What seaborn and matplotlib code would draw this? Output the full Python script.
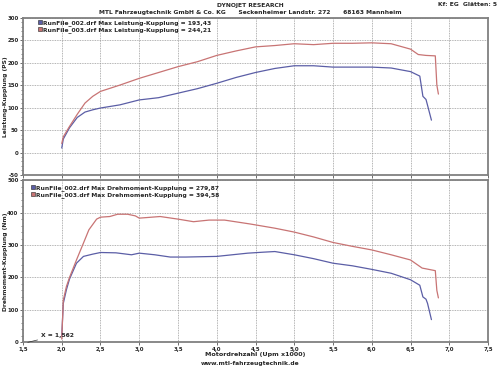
import numpy as np
import pandas as pd
import matplotlib
matplotlib.use("Agg")
import matplotlib.pyplot as plt
import seaborn as sns
from matplotlib.lines import Line2D
from matplotlib.ticker import MultipleLocator, FuncFormatter

# ---------------- data ----------------
rpm_p002 = [2.0, 2.02, 2.1, 2.2, 2.3, 2.4, 2.5, 2.75, 3.0, 3.25, 3.5, 3.75, 4.0, 4.25,
            4.5, 4.75, 5.0, 5.25, 5.5, 5.75, 6.0, 6.25, 6.5, 6.62, 6.66, 6.7, 6.72, 6.77]
pow_002 = [10, 30, 55, 78, 90, 95, 99, 106, 117, 122, 132, 142, 154, 167,
           178, 187, 193, 193, 190, 190, 190, 188, 180, 170, 125, 118, 105, 72]

rpm_p003 = [2.0, 2.02, 2.1, 2.2, 2.3, 2.4, 2.5, 2.75, 3.0, 3.25, 3.5, 3.75, 4.0, 4.25,
            4.5, 4.75, 5.0, 5.25, 5.5, 5.75, 6.0, 6.25, 6.5, 6.6, 6.7, 6.82, 6.84, 6.86]
pow_003 = [20, 35, 58, 85, 110, 125, 136, 150, 165, 178, 191, 202, 216, 226,
           235, 238, 242, 240, 243, 243, 244, 242, 230, 218, 216, 215, 150, 130]

rpm_t002 = [2.0, 2.02, 2.06, 2.1, 2.19, 2.28, 2.4, 2.5, 2.7, 2.9, 3.0, 3.2, 3.4, 3.6, 3.8,
            4.0, 4.2, 4.4, 4.6, 4.75, 5.0, 5.25, 5.5, 5.75, 6.0, 6.25, 6.5, 6.62, 6.66,
            6.7, 6.72, 6.77]
trq_002 = [20, 120, 162, 195, 244, 265, 272, 277, 276, 270, 275, 270, 263, 263, 264,
           265, 270, 275, 278, 280, 270, 258, 244, 236, 225, 213, 193, 176, 140,
           133, 120, 70]

rpm_t003 = [2.0, 2.02, 2.06, 2.1, 2.19, 2.28, 2.35, 2.45, 2.5, 2.62, 2.72, 2.85, 2.95, 3.0,
            3.27, 3.5, 3.7, 3.9, 4.1, 4.43, 4.75, 5.0, 5.25, 5.5, 5.75, 6.0, 6.25, 6.5,
            6.65, 6.82, 6.84, 6.86]
trq_003 = [10, 130, 172, 200, 254, 306, 347, 380, 386, 388, 395, 395, 390, 383,
           388, 380, 372, 377, 377, 365, 352, 340, 325, 308, 296, 285, 270, 254,
           229, 221, 160, 137]

legend_power = ["RunFile_002.drf Max Leistung-Kupplung = 193,43",
                "RunFile_003.drf Max Leistung-Kupplung = 244,21"]
legend_torque = ["RunFile_002.drf Max Drehmoment-Kupplung = 279,87",
                 "RunFile_003.drf Max Drehmoment-Kupplung = 394,58"]

# ---------------- style ----------------
sns.set_theme(style="white")
plt.rcParams['font.family'] = ['DejaVu Sans']
BLUE = "#5b5ea6"
RED = "#c87474"
GRID = "#9a9a9a"
FS = 4.3
TFS = 3.9

fig = plt.figure(figsize=(5.0, 3.68), dpi=100)
fig.patch.set_facecolor("white")

ax1 = fig.add_axes([0.046, 0.5245, 0.930, 0.4275])
ax2 = fig.add_axes([0.046, 0.0698, 0.930, 0.4405])

df_p = pd.concat([
    pd.DataFrame({"rpm": rpm_p002, "val": pow_002, "run": "002"}),
    pd.DataFrame({"rpm": rpm_p003, "val": pow_003, "run": "003"}),
])
df_t = pd.concat([
    pd.DataFrame({"rpm": rpm_t002, "val": trq_002, "run": "002"}),
    pd.DataFrame({"rpm": rpm_t003, "val": trq_003, "run": "003"}),
])

pal = {"002": BLUE, "003": RED}
sns.lineplot(data=df_p, x="rpm", y="val", hue="run", palette=pal, sort=False,
             estimator=None, ax=ax1, linewidth=0.9, legend=False)
sns.lineplot(data=df_t, x="rpm", y="val", hue="run", palette=pal, sort=False,
             estimator=None, ax=ax2, linewidth=0.9, legend=False)

comma = FuncFormatter(lambda v, p: f"{v:.1f}".replace(".", ","))
intfmt = FuncFormatter(lambda v, p: f"{int(round(v))}")

for ax, (lo, hi, major, minor) in [(ax1, (-50, 300, 50, 10)), (ax2, (0, 500, 100, 20))]:
    ax.set_xlim(1.5, 7.5)
    ax.set_ylim(lo, hi)
    ax.xaxis.set_major_locator(MultipleLocator(0.5))
    ax.yaxis.set_major_locator(MultipleLocator(major))
    ax.yaxis.set_minor_locator(MultipleLocator(minor))
    ax.yaxis.set_major_formatter(intfmt)
    ax.grid(True, which="major", color=GRID, linestyle=(0, (1, 1)), linewidth=0.6)
    for s in ax.spines.values():
        s.set_color("#808080")
        s.set_linewidth(1.3)
    ax.tick_params(axis="both", which="major", length=2.5, width=0.6, color="#555",
                   labelsize=TFS, pad=0.8, direction="out", left=True, bottom=True)
    ax.tick_params(axis="y", which="minor", length=1.5, width=0.5, color="#555", left=True)
    for lab in ax.get_yticklabels() + ax.get_xticklabels():
        lab.set_fontweight("bold")
    ax.set_xlabel("")
    ax.set_ylabel("")

ax1.tick_params(axis="x", labelbottom=False)
ax2.xaxis.set_major_formatter(comma)
for lab in ax2.get_xticklabels():
    lab.set_fontweight("bold")

ax2.set_xlabel("Motordrehzahl (Upm x1000)", fontsize=FS + 0.3, fontweight="bold", labelpad=0)

# y-axis titles placed at the far left edge, like the reference
fig.text(0.011, 0.5245 + 0.4275 / 2, "Leistung-Kupplung (PS)", rotation=90,
         ha="center", va="center", fontsize=FS, fontweight="bold")
fig.text(0.011, 0.0698 + 0.4405 / 2, "Drehmoment-Kupplung (Nm)", rotation=90,
         ha="center", va="center", fontsize=FS, fontweight="bold")

def sq(c):
    return Line2D([], [], marker="s", linestyle="none", markersize=3,
                  markerfacecolor=c, markeredgecolor="#222", markeredgewidth=0.4)

for ax, labels, anchor in [(ax1, legend_power, (0.028, 1.0)), (ax2, legend_torque, (0.012, 0.985))]:
    leg = ax.legend([sq(BLUE), sq(RED)], labels, loc="upper left", bbox_to_anchor=anchor,
                    frameon=False, fontsize=FS, handlelength=0.6, handletextpad=0.2,
                    labelspacing=0.15, borderpad=0.2, borderaxespad=0.2)
    for t in leg.get_texts():
        t.set_fontweight("bold")

ax2.annotate("X = 1,562", xy=(1.562, 0), xytext=(1.73, 22), fontsize=FS,
             fontweight="bold", va="center", ha="left",
             arrowprops=dict(arrowstyle="-", color="#333", linewidth=0.5,
                             shrinkA=0, shrinkB=0))

fig.text(0.5, 0.986, "DYNOJET RESEARCH", ha="center", va="center", fontsize=FS,
         fontweight="bold")
fig.text(0.5, 0.966, "MTL Fahrzeugtechnik GmbH & Co. KG      Seckenheimer Landstr. 272      68163 Mannheim",
         ha="center", va="center", fontsize=FS, fontweight="bold")
fig.text(0.995, 0.988, "Kf: EG  Glätten: 5", ha="right", va="center", fontsize=FS,
         fontweight="bold")
fig.text(0.5, 0.011, "www.mtl-fahrzeugtechnik.de", ha="center", va="center",
         fontsize=FS, fontweight="bold")

fig.savefig("out.png", dpi=100, facecolor="white")
